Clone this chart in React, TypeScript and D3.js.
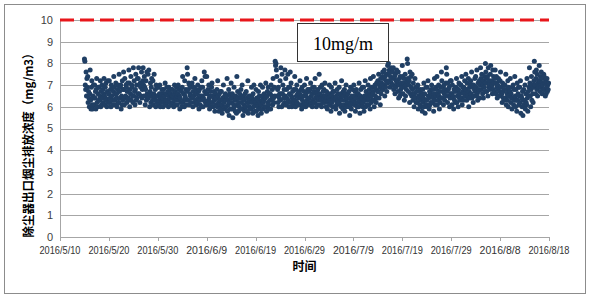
import React from "react";
import * as d3 from "d3";

const W = 590;
const H = 299;

const xTickLabels = [
  "2016/5/10", "2016/5/20", "2016/5/30", "2016/6/9", "2016/6/19", "2016/6/29",
  "2016/7/9", "2016/7/19", "2016/7/29", "2016/8/8", "2016/8/18",
];
const yTicks = [0, 1, 2, 3, 4, 5, 6, 7, 8, 9, 10];
const limitValue = 10;
const limitLabel = "10mg/m";
const yTitle = "除尘器出口烟尘排放浓度（mg/m3）";
const xTitle = "时间";

// Monitoring series: first sample 2016/5/15 00:00, one sample every 2 hours (12 per day)
const seriesStart = "2016/5/15";
const samplesPerDay = 12;
const dayValues: number[][] = [
  [8.2, 8.1, 7.0, 6.8, 7.6, 6.5, 7.3, 6.9, 7.4, 6.2, 6.7, 6.4], // 5/15
  [6.0, 6.6, 7.7, 6.3, 5.9, 6.9, 7.2, 6.1, 5.9, 6.5, 7.0, 6.4],
  [6.1, 7.0, 6.4, 6.7, 5.9, 6.8, 7.3, 6.2, 6.0, 6.6, 6.9, 6.3],
  [6.9, 6.3, 6.5, 7.2, 6.0, 6.7, 6.1, 7.0, 6.4, 6.8, 6.2, 6.6],
  [7.3, 6.5, 6.1, 6.9, 6.4, 7.1, 6.3, 6.0, 6.7, 7.2, 6.2, 6.6],
  [6.6, 7.2, 6.2, 6.4, 6.8, 6.0, 7.0, 6.5, 6.9, 6.3, 6.1, 6.7], // 5/20
  [7.4, 6.9, 6.3, 6.6, 6.1, 7.1, 6.4, 6.6, 6.0, 6.8, 7.0, 6.2],
  [6.2, 7.5, 6.7, 6.4, 6.9, 7.0, 5.9, 6.5, 6.1, 7.2, 6.3, 6.8],
  [7.6, 6.8, 6.1, 7.3, 6.4, 6.5, 7.0, 6.9, 6.2, 6.7, 7.1, 6.3],
  [6.4, 7.7, 7.1, 6.0, 6.8, 6.6, 7.4, 6.3, 7.0, 6.9, 6.5, 6.2],
  [7.8, 6.5, 7.2, 6.7, 6.1, 6.8, 7.5, 6.3, 7.0, 6.4, 7.3, 6.6], // 5/25
  [7.3, 7.8, 6.6, 7.0, 6.2, 7.1, 6.9, 6.5, 7.6, 6.4, 6.8, 7.2],
  [7.8, 7.0, 6.5, 7.4, 6.9, 6.1, 6.8, 7.2, 6.3, 7.6, 6.6, 6.4],
  [7.5, 6.4, 7.7, 6.6, 6.0, 6.7, 7.1, 6.2, 6.9, 7.3, 6.5, 6.3],
  [7.2, 6.1, 6.6, 7.5, 6.4, 6.3, 6.8, 6.0, 7.0, 6.5, 6.2, 6.9],
  [6.5, 6.9, 6.1, 6.3, 6.6, 7.0, 6.0, 6.4, 6.6, 6.2, 6.8, 6.3], // 5/30
  [6.4, 6.0, 6.8, 6.2, 6.6, 6.5, 7.1, 6.1, 6.3, 6.6, 6.9, 6.2],
  [6.3, 6.7, 6.0, 6.9, 6.5, 6.4, 6.2, 6.6, 6.8, 6.1, 6.4, 6.5], // 6/1
  [6.8, 6.2, 6.5, 6.0, 6.6, 7.0, 6.3, 6.7, 6.1, 6.4, 6.9, 6.5],
  [6.1, 6.6, 7.0, 6.3, 6.8, 6.5, 5.9, 6.4, 6.8, 6.2, 6.7, 6.0],
  [6.9, 7.4, 6.2, 6.6, 6.3, 6.0, 7.2, 6.5, 6.4, 6.8, 6.1, 6.7],
  [7.8, 7.5, 6.3, 6.8, 7.1, 6.1, 7.0, 6.6, 6.5, 6.2, 6.9, 6.4], // 6/5
  [7.1, 6.4, 6.0, 6.7, 6.5, 6.9, 6.2, 7.3, 6.6, 6.3, 6.8, 6.1],
  [6.6, 6.2, 7.0, 6.4, 6.7, 5.9, 6.8, 6.3, 6.1, 6.5, 6.9, 6.0],
  [7.2, 6.5, 6.9, 6.0, 6.4, 6.3, 7.6, 6.7, 7.4, 6.2, 6.6, 6.1],
  [7.4, 6.6, 6.1, 6.8, 6.3, 7.0, 6.4, 5.9, 6.5, 6.2, 6.7, 6.0],
  [6.9, 7.1, 6.2, 6.5, 6.0, 6.4, 6.7, 6.3, 5.8, 6.6, 6.1, 6.4], // 6/10
  [6.4, 6.8, 6.0, 7.2, 6.5, 6.2, 5.8, 6.6, 6.3, 6.1, 6.7, 5.9],
  [6.7, 6.1, 5.7, 6.4, 6.3, 7.0, 6.2, 5.9, 6.5, 6.0, 6.6, 6.3],
  [6.0, 6.5, 7.3, 5.8, 6.3, 6.1, 6.8, 5.6, 6.2, 6.6, 5.9, 6.4],
  [7.1, 6.2, 5.9, 6.6, 5.5, 6.4, 6.1, 6.9, 6.0, 6.3, 5.8, 6.5],
  [6.3, 5.7, 7.4, 6.1, 6.7, 6.4, 5.8, 6.2, 6.0, 6.6, 5.9, 6.4], // 6/15
  [6.8, 6.2, 5.9, 7.0, 6.4, 5.6, 6.5, 6.1, 6.3, 5.8, 6.6, 6.0],
  [6.0, 6.7, 5.8, 6.4, 6.2, 7.2, 5.7, 6.2, 6.5, 6.0, 6.3, 5.9],
  [6.5, 5.9, 6.9, 6.2, 6.4, 5.7, 6.6, 6.0, 7.0, 6.3, 5.8, 6.1],
  [6.2, 6.8, 5.8, 6.4, 6.1, 6.0, 5.6, 6.7, 6.3, 6.5, 5.9, 6.2],
  [7.0, 6.1, 5.7, 6.5, 6.3, 6.9, 5.9, 6.2, 6.3, 6.6, 6.0, 6.4], // 6/20
  [6.4, 7.1, 6.0, 5.8, 6.5, 6.7, 6.2, 6.9, 6.1, 5.9, 6.6, 6.3],
  [6.6, 5.9, 7.0, 6.3, 6.5, 6.8, 6.1, 7.3, 6.4, 6.2, 6.9, 6.5],
  [8.1, 7.9, 8.0, 7.7, 7.4, 6.5, 6.8, 6.2, 6.9, 6.0, 6.4, 6.6],
  [7.2, 6.3, 7.8, 6.6, 6.0, 7.5, 6.6, 7.0, 6.1, 6.4, 6.8, 6.2],
  [7.7, 6.5, 7.3, 6.1, 6.8, 6.4, 6.2, 7.5, 6.3, 6.9, 6.0, 6.6], // 6/25
  [6.9, 7.6, 6.2, 7.1, 6.5, 6.0, 6.4, 6.7, 6.3, 6.1, 6.8, 6.2],
  [7.4, 6.3, 6.0, 6.8, 6.5, 7.0, 6.2, 6.6, 6.5, 6.1, 6.4, 6.7],
  [6.6, 7.2, 6.1, 6.4, 6.8, 5.9, 6.9, 6.3, 6.0, 6.5, 6.2, 6.7],
  [7.0, 6.2, 6.5, 6.0, 6.6, 7.3, 6.3, 6.1, 6.8, 6.4, 6.7, 6.2],
  [6.4, 6.8, 6.1, 7.1, 6.2, 6.5, 6.6, 6.0, 6.9, 6.3, 6.2, 6.7], // 6/30
  [6.9, 6.2, 7.3, 6.4, 6.6, 6.0, 6.7, 6.1, 6.5, 6.8, 6.3, 6.4], // 7/1
  [7.5, 6.6, 6.1, 6.9, 6.4, 6.3, 6.0, 7.0, 6.5, 6.2, 6.7, 6.4],
  [6.8, 6.2, 7.1, 6.5, 6.3, 6.0, 6.7, 6.4, 5.9, 6.6, 6.2, 6.3],
  [6.4, 7.0, 6.1, 6.6, 6.3, 5.8, 6.9, 6.2, 6.5, 6.0, 6.7, 6.4],
  [6.7, 6.0, 6.3, 7.1, 6.4, 5.9, 6.5, 6.1, 6.8, 6.2, 6.6, 6.3], // 7/5
  [6.2, 6.9, 5.7, 6.4, 6.1, 6.6, 6.0, 7.2, 6.3, 6.5, 5.9, 6.7],
  [6.5, 6.1, 6.8, 5.8, 6.3, 6.6, 7.0, 6.0, 6.4, 6.2, 6.6, 6.1],
  [6.0, 6.7, 6.2, 5.6, 6.4, 6.9, 6.1, 5.9, 6.5, 6.3, 6.8, 6.2],
  [6.3, 7.0, 6.5, 6.1, 6.7, 5.8, 6.2, 6.8, 6.4, 6.0, 6.6, 6.2],
  [6.6, 6.0, 7.1, 6.3, 5.7, 6.5, 6.8, 6.1, 6.4, 6.2, 6.9, 6.0], // 7/10
  [6.2, 6.9, 5.8, 6.5, 6.3, 7.2, 6.0, 6.7, 6.4, 6.1, 6.6, 6.3],
  [7.0, 6.4, 6.1, 6.8, 6.6, 5.9, 7.3, 6.5, 6.2, 6.9, 6.3, 6.7],
  [6.6, 7.4, 6.3, 6.0, 6.9, 7.0, 6.5, 6.8, 6.2, 7.1, 6.4, 6.7],
  [7.2, 6.7, 7.5, 6.4, 7.0, 6.9, 6.1, 7.3, 6.6, 7.1, 6.8, 7.4],
  [7.6, 6.8, 7.3, 7.0, 7.7, 6.5, 7.4, 6.9, 7.2, 7.5, 6.7, 7.1], // 7/15
  [7.9, 7.5, 8.0, 7.2, 7.7, 7.6, 6.9, 7.4, 7.8, 7.1, 7.3, 7.0],
  [7.6, 7.0, 7.8, 6.8, 7.3, 7.4, 6.6, 7.5, 6.9, 7.2, 7.7, 7.1],
  [7.2, 6.7, 7.6, 6.4, 7.0, 7.3, 6.5, 7.4, 6.8, 7.1, 6.6, 6.9],
  [7.9, 7.4, 6.6, 7.1, 7.3, 6.3, 6.9, 7.5, 6.5, 7.0, 6.8, 7.2],
  [8.2, 8.0, 7.3, 6.7, 7.0, 7.2, 6.2, 7.6, 6.6, 7.4, 6.9, 6.5], // 7/20
  [7.5, 6.8, 6.3, 7.1, 6.6, 6.0, 6.6, 7.3, 6.4, 6.9, 6.2, 6.7],
  [6.9, 6.2, 7.0, 5.9, 6.5, 6.4, 6.7, 6.1, 6.8, 6.3, 6.0, 6.6],
  [6.5, 5.8, 6.8, 6.2, 6.4, 7.1, 6.0, 6.6, 5.7, 6.3, 6.9, 6.1],
  [6.3, 6.9, 6.0, 7.2, 6.5, 6.4, 5.9, 6.7, 6.1, 6.6, 6.2, 6.8],
  [7.0, 6.5, 6.2, 6.8, 6.4, 5.8, 6.6, 7.3, 6.3, 6.1, 6.9, 6.5], // 7/25
  [6.8, 7.4, 6.1, 6.6, 6.3, 7.0, 6.5, 5.9, 6.7, 6.2, 6.9, 6.4],
  [7.6, 7.2, 6.4, 6.9, 6.7, 6.1, 7.0, 6.6, 6.3, 6.8, 6.5, 7.1],
  [7.8, 7.5, 6.7, 6.2, 7.1, 6.8, 6.5, 6.9, 6.0, 6.4, 7.2, 6.6],
  [7.2, 6.6, 6.1, 7.0, 6.5, 6.4, 5.9, 6.8, 6.3, 6.7, 6.2, 6.9],
  [6.9, 7.3, 6.2, 6.5, 6.7, 6.0, 6.8, 7.1, 6.4, 6.6, 6.3, 7.0], // 7/30
  [7.0, 6.4, 7.4, 6.1, 6.7, 6.9, 6.3, 6.9, 6.6, 7.2, 6.5, 6.8],
  [7.5, 6.8, 6.3, 7.1, 6.6, 6.5, 7.3, 6.0, 6.7, 6.9, 6.4, 7.0], // 8/1
  [7.2, 6.6, 7.6, 6.4, 7.0, 6.9, 6.2, 7.0, 6.5, 6.8, 7.3, 6.7],
  [7.4, 6.9, 6.5, 7.7, 6.6, 6.3, 7.1, 6.7, 6.8, 7.2, 6.4, 7.0],
  [7.8, 7.3, 6.8, 7.5, 7.1, 6.6, 7.0, 6.4, 7.2, 6.9, 7.4, 6.7],
  [8.0, 7.6, 7.1, 6.7, 7.3, 7.4, 6.5, 7.8, 6.9, 7.2, 7.0, 6.8], // 8/5
  [7.5, 7.9, 6.9, 7.2, 7.0, 6.6, 7.7, 6.8, 7.4, 7.1, 6.7, 7.3],
  [7.7, 7.1, 6.6, 7.4, 6.9, 6.4, 7.0, 6.8, 7.3, 6.5, 7.2, 6.7],
  [7.2, 7.6, 6.5, 6.9, 6.6, 6.2, 7.1, 6.7, 6.4, 7.0, 6.3, 6.8],
  [7.0, 6.4, 7.5, 6.1, 6.8, 6.6, 6.3, 7.2, 6.0, 6.9, 6.5, 6.7],
  [6.7, 7.3, 6.2, 6.6, 6.4, 5.9, 6.9, 6.4, 7.0, 6.1, 6.8, 6.3], // 8/10
  [7.4, 6.5, 6.0, 6.8, 6.3, 5.8, 7.1, 6.3, 6.6, 6.9, 6.1, 6.5],
  [6.9, 6.2, 7.2, 5.7, 6.5, 6.4, 6.0, 6.7, 5.6, 6.3, 6.8, 6.1],
  [6.3, 7.0, 5.9, 6.6, 6.2, 6.1, 7.3, 6.4, 5.8, 6.7, 6.5, 6.9],
  [7.8, 7.1, 6.5, 6.0, 6.8, 7.4, 6.3, 7.0, 6.6, 6.2, 6.9, 7.2],
  [8.1, 7.6, 7.0, 6.6, 7.3, 7.7, 6.8, 7.5, 6.5, 7.1, 6.9, 7.2], // 8/15
  [7.9, 7.2, 6.7, 7.4, 6.9, 7.6, 7.1, 6.6, 7.0, 7.3, 6.8, 7.5],
  [7.4, 6.8, 7.1, 6.5, 7.2, 6.6, 6.9, 7.3, 6.7, 7.0, 6.8, 7.1], // 8/17
];

const parseDate = (s: string) => {
  const [y, m, d] = s.split("/").map(Number);
  return new Date(Date.UTC(y, m - 1, d));
};

const frame = { left: 4.5, top: 4.5, right: 585.5, bottom: 293.5 };
const plot = { left: 60, right: 549, top: 20, bottom: 237 };

export default function App() {
  const xDates = xTickLabels.map(parseDate);
  const x = d3
    .scaleUtc()
    .domain([xDates[0], xDates[xDates.length - 1]])
    .range([plot.left, plot.right]);
  const y = d3.scaleLinear().domain([0, 10]).range([plot.bottom, plot.top]);

  const start = parseDate(seriesStart);
  const points: { t: Date; v: number }[] = [];
  dayValues.forEach((vals, d) => {
    vals.forEach((v, i) => {
      const t = d3.utcHour.offset(d3.utcDay.offset(start, d), (i * 24) / samplesPerDay);
      points.push({ t, v });
    });
  });

  const gridColor = "#a6a6a6";
  const labelFont = "'Liberation Sans', Arial, sans-serif";
  const cjkFont = "'Noto Sans CJK SC', sans-serif";

  return (
    <svg width={W} height={H} style={{ position: "absolute", left: 0, top: 0, background: "#fff" }}>
      <rect x={0} y={0} width={W} height={H} fill="#fff" />
      <rect
        x={frame.left}
        y={frame.top}
        width={frame.right - frame.left}
        height={frame.bottom - frame.top}
        fill="#fff"
        stroke="#8c8c8c"
        strokeWidth={1}
      />
      {/* gridlines */}
      {yTicks.filter((t) => t > 0).map((t) => (
        <line
          key={t}
          x1={plot.left}
          x2={plot.right}
          y1={Math.round(y(t)) + 0.5}
          y2={Math.round(y(t)) + 0.5}
          stroke={gridColor}
          strokeWidth={1}
        />
      ))}
      {/* axes */}
      <line x1={plot.left + 0.5} x2={plot.left + 0.5} y1={plot.top} y2={plot.bottom} stroke={gridColor} />
      <line x1={plot.left} x2={plot.right} y1={plot.bottom + 0.5} y2={plot.bottom + 0.5} stroke={gridColor} />
      {xDates.map((d, i) => (
        <line
          key={i}
          x1={Math.round(x(d)) + 0.5}
          x2={Math.round(x(d)) + 0.5}
          y1={plot.bottom}
          y2={plot.bottom + 4}
          stroke={gridColor}
        />
      ))}
      {/* y tick labels */}
      {yTicks.map((t) => (
        <text
          key={t}
          x={53}
          y={y(t)}
          dy="0.36em"
          textAnchor="end"
          fontFamily={labelFont}
          fontSize={11}
          fill="#404040"
        >
          {t}
        </text>
      ))}
      {/* x tick labels */}
      {xDates.map((d, i) => (
        <text
          key={i}
          x={x(d)}
          y={254}
          textAnchor="middle"
          fontFamily={labelFont}
          fontSize={10.5}
          fill="#333"
          textLength={41}
          lengthAdjust="spacingAndGlyphs"
        >
          {xTickLabels[i]}
        </text>
      ))}
      {/* points */}
      <g fill="#203f64">
        {points.map((p, i) => (
          <circle key={i} cx={x(p.t)} cy={y(p.v)} r={2.5} />
        ))}
      </g>
      {/* limit line */}
      <line
        x1={plot.left}
        x2={plot.right}
        y1={y(limitValue)}
        y2={y(limitValue)}
        stroke="#e8161b"
        strokeWidth={3}
        strokeDasharray="14,6"
      />
      {/* annotation box */}
      <rect x={297.5} y={23.5} width={91} height={38} fill="#fff" stroke="#333" strokeWidth={1} />
      <text
        x={343}
        y={50}
        textAnchor="middle"
        fontFamily="'Liberation Serif', 'Times New Roman', serif"
        fontSize={18}
        fill="#000"
      >
        {limitLabel}
      </text>
      {/* axis titles */}
      <text
        transform={`translate(33, ${(plot.top + plot.bottom) / 2 + 14}) rotate(-90)`}
        textAnchor="middle"
        fontFamily={cjkFont}
        fontWeight="bold"
        fontSize={12}
        fill="#000"
        textLength={190}
        lengthAdjust="spacingAndGlyphs"
      >
        {yTitle}
      </text>
      <text
        x={(plot.left + plot.right) / 2}
        y={271}
        textAnchor="middle"
        fontFamily={cjkFont}
        fontWeight="bold"
        fontSize={12}
        fill="#000"
      >
        {xTitle}
      </text>
    </svg>
  );
}
